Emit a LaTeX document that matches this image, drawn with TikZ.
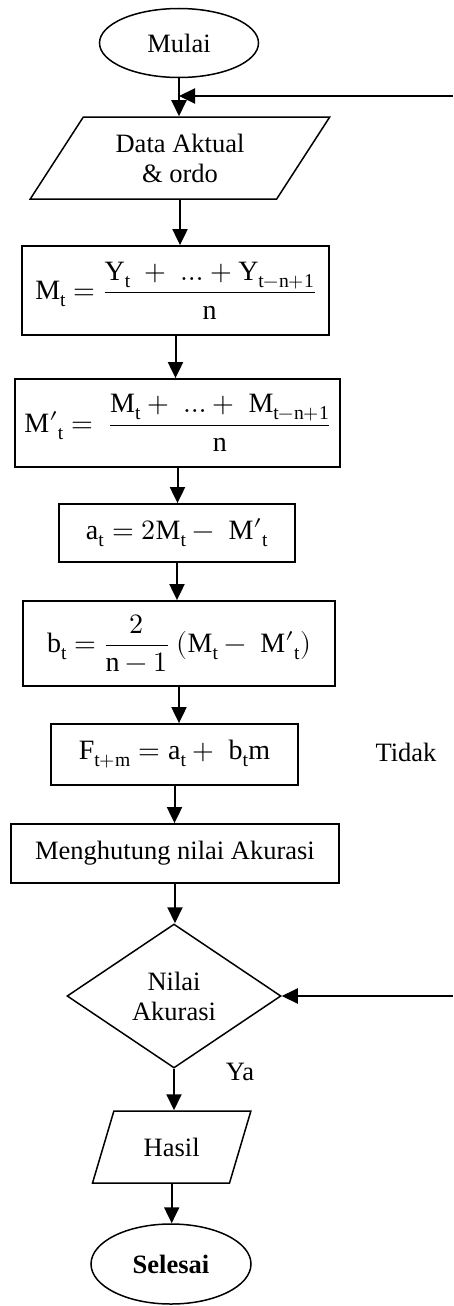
\documentclass[tikz,border=0pt]{standalone}
\usepackage{fontspec}
\usepackage{unicode-math}
\setmainfont{Liberation Serif}
\usetikzlibrary{arrows.meta,shapes.geometric}
\newcommand{\Mdash}{\mathrm{M}\mathord{\prime}}

\begin{document}
\begin{tikzpicture}[x=1pt,y=-1pt,
    font=\fontsize{26.5}{30}\selectfont,
    terminal/.style={draw,ellipse,line width=1.5pt,inner sep=0pt},
    process/.style={draw,rectangle,line width=1.8pt,inner sep=0pt,font=\fontsize{28}{32}\selectfont},
    inout/.style={draw,trapezium,trapezium stretches=true,line width=1.5pt,inner sep=0pt},
    decision/.style={draw,diamond,line width=1.5pt,inner sep=0pt,align=center},
    flow/.style={line width=2pt,-{Triangle[width=15pt,length=16pt]}}]
  \useasboundingbox (0,0) rectangle (453,1306);
  % start and input
  \node[terminal,minimum width=159,minimum height=69] (mulai) at (179,43) {Mulai};
  \node[inout,trapezium left angle=54,trapezium right angle=126,
    minimum width=300,minimum height=82,align=center] (data) at (180,158) {Data Aktual\\ \& ordo};
  % moving averages
  \node[process,minimum width=307,minimum height=89] (mt) at (175.5,290.5)
    {\(\mathrm{M_t}=\dfrac{\mathrm{Y_t}\;+\;\ldots+\mathrm{Y_{t-n+1}}}{\mathrm{n}}\)};
  \node[process,minimum width=325,minimum height=88] (mdt) at (177.5,423)
    {\({\Mdash}_{\mathrm{t}}=\;\dfrac{\mathrm{M_t}+\;\ldots+\;\mathrm{M_{t-n+1}}}{\mathrm{n}}\)};
  \node[process,minimum width=236,minimum height=58] (at) at (177,533)
    {\(\mathrm{a_t}=2\mathrm{M_t}-\;{\Mdash}_{\mathrm{t}}\)};
  \node[process,minimum width=312,minimum height=85] (bt) at (179,643.5)
    {\(\mathrm{b_t}=\dfrac{2}{\mathrm{n}-1}\;(\mathrm{M_t}-\;{\Mdash}_{\mathrm{t}})\)};
  \node[process,minimum width=247,minimum height=61] (ft) at (174.5,754.5)
    {\(\mathrm{F_{t+m}}=\mathrm{a_t}+\;\mathrm{b_t}\mathrm{m}\)};
  \node[process,minimum width=328,minimum height=59,font=\fontsize{26.5}{30}\selectfont] (hitung) at (175,853.5) {Menghutung nilai Akurasi};
  % check and output
  \node[decision,minimum width=214,minimum height=144] (nilai) at (174,996) {Nilai\\Akurasi};
  \node[inout,trapezium left angle=61,trapezium right angle=119,
    minimum width=159,minimum height=72] (hasil) at (171.7,1147) {Hasil};
  \node[terminal,minimum width=160,minimum height=80,font=\fontsize{26.5}{30}\selectfont\bfseries] (selesai) at (171,1264) {Selesai};
  \node (tidak) at (406,752) {Tidak};
  \node (ya) at (240,1072) {Ya};
  \coordinate (balik1) at (453,96);
  \coordinate (masuk) at (mulai.south |- balik1);
  \coordinate (balik2) at (453,996);

  \draw[flow] (mulai.south) -- (mulai.south |- data.north);
  \draw[flow] (data.south) -- (data.south |- mt.north);
  \draw[flow] (mt.south) -- (mt.south |- mdt.north);
  \draw[flow] (mdt.south) -- (mdt.south |- at.north);
  \draw[flow] (at.south) -- (at.south |- bt.north);
  \draw[flow] (bt.south) -- (bt.south |- ft.north);
  \draw[flow] (ft.south) -- (ft.south |- hitung.north);
  \draw[flow] (hitung.south) -- (hitung.south |- nilai.north);
  \draw[flow] (nilai.south) -- (nilai.south |- hasil.north);
  \draw[flow] (hasil.south) -- (hasil.south |- selesai.north);
  \draw[flow] (balik1) -- (masuk);
  \draw[flow] (balik2) -- (nilai.east);
\end{tikzpicture}
\end{document}
